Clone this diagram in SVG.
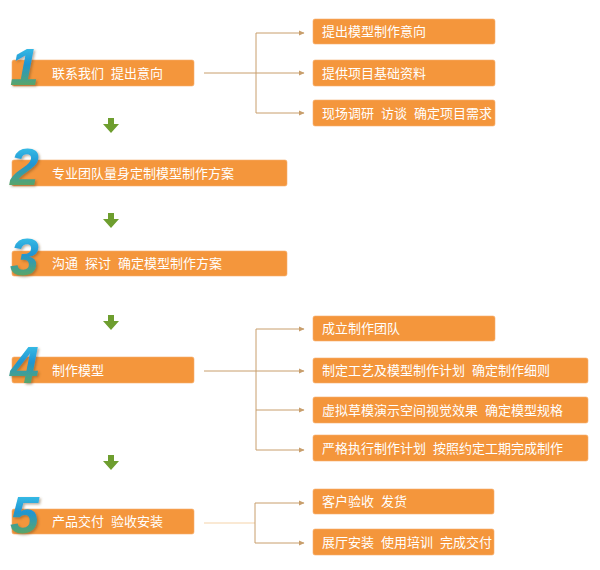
<svg xmlns="http://www.w3.org/2000/svg" xmlns:xlink="http://www.w3.org/1999/xlink" width="600" height="570" viewBox="0 0 600 570">
<style>
.box{fill:#F4963C;stroke:#F7B070;stroke-width:0.6}
.t{font-family:"Noto Sans CJK SC","Noto Sans",sans-serif;font-size:13px;fill:#FFFFFF}
.num{font-family:"Liberation Sans",Arial,sans-serif;font-size:52px;font-weight:bold;font-style:italic;fill:url(#ng);filter:url(#sh)}
.con{fill:none;stroke:#C89E6C;stroke-width:1}
.con2{fill:none;stroke:#F6D4AA;stroke-width:1.2}
.dn{fill:#6E9E2F}
</style>
<defs>
<linearGradient id="ng" x1="0" y1="0" x2="0" y2="1">
<stop offset="0" stop-color="#45D3F2"/>
<stop offset="0.45" stop-color="#1F95D2"/>
<stop offset="0.75" stop-color="#4FA37A"/>
<stop offset="1" stop-color="#7CA733"/>
</linearGradient>
<filter id="sh" x="-20%" y="-20%" width="150%" height="150%">
<feDropShadow dx="1.5" dy="1.5" stdDeviation="0.8" flood-color="#6b4a20" flood-opacity="0.45"/>
</filter>
<marker id="ah" viewBox="0 0 6 6" refX="5" refY="3" markerWidth="6" markerHeight="6" markerUnits="userSpaceOnUse" orient="auto">
<path d="M0,0.5 L5.5,3 L0,5.5 Z" fill="#C89E6C"/>
</marker>
<path id="down" d="M-3,0 H3 V6 H8 L0,15 L-8,6 H-3 Z"/>
</defs>

<g id="connectors">
<path class="con" d="M204,73 H256"/>
<path class="con" d="M256,33 V113"/>
<path class="con" d="M256,73 H304" marker-end="url(#ah)"/>
<path class="con" d="M256,33 H304" marker-end="url(#ah)"/>
<path class="con" d="M256,113 H304" marker-end="url(#ah)"/>

<path class="con" d="M204,371 H256"/>
<path class="con" d="M256,329 V450"/>
<path class="con" d="M256,329 H304" marker-end="url(#ah)"/>
<path class="con" d="M256,371 H304" marker-end="url(#ah)"/>
<path class="con" d="M256,410 H304" marker-end="url(#ah)"/>
<path class="con" d="M256,450 H304" marker-end="url(#ah)"/>

<path class="con2" d="M204,523 H255"/>
<path class="con" d="M255,503 V543"/>
<path class="con" d="M255,503 H304" marker-end="url(#ah)"/>
<path class="con" d="M255,543 H304" marker-end="url(#ah)"/>

<use xlink:href="#down" class="dn" transform="translate(111,118)"/>
<use xlink:href="#down" class="dn" transform="translate(111,213)"/>
<use xlink:href="#down" class="dn" transform="translate(111,315)"/>
<use xlink:href="#down" class="dn" transform="translate(111,455)"/>
</g>

<g id="step1">
<rect class="box" x="12" y="60" width="182" height="26" rx="2"/>
<text class="num" x="10" y="85">1</text>
<text class="t" x="52" y="78">联系我们<tspan dx="7">提出意向</tspan></text>
</g>
<g id="step2">
<rect class="box" x="12" y="160" width="275" height="26" rx="2"/>
<text class="num" x="10" y="185">2</text>
<text class="t" x="52" y="178">专业团队量身定制模型制作方案</text>
</g>
<g id="step3">
<rect class="box" x="12" y="251" width="275" height="25" rx="2"/>
<text class="num" x="10" y="275">3</text>
<text class="t" x="52" y="268">沟通<tspan dx="7">探讨</tspan><tspan dx="7">确定模型制作方案</tspan></text>
</g>
<g id="step4">
<rect class="box" x="12" y="357" width="182" height="26" rx="2"/>
<text class="num" x="10" y="383">4</text>
<text class="t" x="52" y="375">制作模型</text>
</g>
<g id="step5">
<rect class="box" x="12" y="509" width="182" height="25" rx="2"/>
<text class="num" x="10" y="533">5</text>
<text class="t" x="52" y="526">产品交付<tspan dx="7">验收安装</tspan></text>
</g>

<g id="r1a"><rect class="box" x="313" y="19" width="182" height="25" rx="2"/><text class="t" x="322" y="36">提出模型制作意向</text></g>
<g id="r1b"><rect class="box" x="313" y="60" width="182" height="26" rx="2"/><text class="t" x="322" y="78">提供项目基础资料</text></g>
<g id="r1c"><rect class="box" x="313" y="100" width="182" height="26" rx="2"/><text class="t" x="322" y="118">现场调研<tspan dx="7">访谈</tspan><tspan dx="7">确定项目需求</tspan></text></g>

<g id="r4a"><rect class="box" x="313" y="316" width="182" height="25" rx="2"/><text class="t" x="322" y="333">成立制作团队</text></g>
<g id="r4b"><rect class="box" x="313" y="358" width="275" height="25" rx="2"/><text class="t" x="322" y="375">制定工艺及模型制作计划<tspan dx="7">确定制作细则</tspan></text></g>
<g id="r4c"><rect class="box" x="313" y="397" width="275" height="26" rx="2"/><text class="t" x="322" y="415">虚拟草模演示空间视觉效果<tspan dx="7">确定模型规格</tspan></text></g>
<g id="r4d"><rect class="box" x="313" y="435" width="275" height="26" rx="2"/><text class="t" x="322" y="453">严格执行制作计划<tspan dx="7">按照约定工期完成制作</tspan></text></g>

<g id="r5a"><rect class="box" x="313" y="489" width="181" height="25" rx="2"/><text class="t" x="322" y="506">客户验收<tspan dx="7">发货</tspan></text></g>
<g id="r5b"><rect class="box" x="313" y="529" width="181" height="26" rx="2"/><text class="t" x="322" y="547">展厅安装<tspan dx="7">使用培训</tspan><tspan dx="7">完成交付</tspan></text></g>
</svg>
